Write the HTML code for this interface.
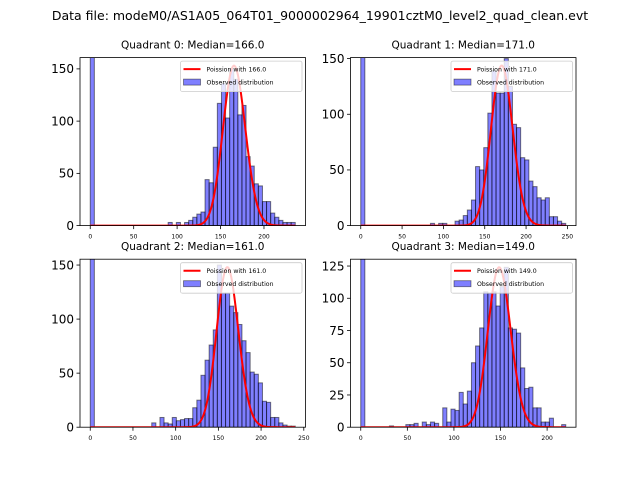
<!DOCTYPE html>
<html><head><meta charset="utf-8"><style>
html,body{margin:0;padding:0;background:#fff}
svg{display:block;font-family:"DejaVu Sans","Liberation Sans",sans-serif}
</style></head><body>
<svg id="fig" width="640" height="480" viewBox="0 0 640 480">
<rect x="0" y="0" width="640" height="480" fill="#fff"/>
<text x="320" y="20" text-anchor="middle" font-size="12.5">Data file: modeM0/AS1A05_064T01_9000002964_19901cztM0_level2_quad_clean.evt</text>
</svg>
<script>
// ---- data ----
const quadrantNames = ["Quadrant 0", "Quadrant 1", "Quadrant 2", "Quadrant 3"];
const medians = [166.0, 171.0, 161.0, 149.0];
const binMaxes = [236, 248, 240, 220];
const curvePeaks = [153, 143.7, 148, 124];
const yLimits = [160.8, 150.9, 155.4, 130.3];
const counts0 = [1000,0,0,0,0,0,0,0,0,0,0,0,0,0,0,0,0,0,0,3,0,3,0,3,5,8,11,13,44,41,75,117,136,103,150,140,106,115,66,57,40,38,23,23,12,8,5,3,3,3];
const counts1 = [1000,0,0,0,0,0,0,0,0,0,0,0,0,0,0,0,0,2,0,2,2,0,0,4,5,9,14,23,53,50,70,101,139,119,119,150,125,91,88,61,59,40,35,25,23,25,8,8,4,2];
const counts2 = [1000,0,0,0,0,0,0,0,0,0,0,0,0,0,0,4,0,9,4,3,9,6,7,8,8,18,25,48,62,76,90,150,124,124,112,106,95,80,69,51,49,41,24,23,9,9,4,2,1,1];
const counts3 = [1000,0,0,0,0,0,0,1,0,0,0,2,2,3,0,4,2,4,3,0,15,4,14,13,27,18,28,50,63,77,105,104,105,94,109,124,77,76,73,46,30,31,15,15,4,4,7,0,0,2];
const yTicks0 = [0,50,100,150];
const yTicks1 = [0,50,100,150];
const yTicks2 = [0,50,100,150];
const yTicks3 = [0,25,50,75,100,125];
const xTicks0 = [0,50,100,150,200];
const xTicks1 = [0,50,100,150,200,250];
const xTicks2 = [0,50,100,150,200,250];
const xTicks3 = [0,50,100,150,200];

const allCounts = [counts0, counts1, counts2, counts3];
const allYTicks = [yTicks0, yTicks1, yTicks2, yTicks3];
const allXTicks = [xTicks0, xTicks1, xTicks2, xTicks3];

// ---- layout ----
const boxes = [
  {x:80, y:57.6, w:225.5, h:168},
  {x:350.5, y:57.6, w:225.5, h:168},
  {x:80, y:259.2, w:225.5, h:168},
  {x:350.5, y:259.2, w:225.5, h:168}
];
const NS = "http://www.w3.org/2000/svg";
const fig = document.getElementById("fig");
function mk(tag, attrs, parent){
  const e = document.createElementNS(NS, tag);
  for (const k in attrs) e.setAttribute(k, attrs[k]);
  (parent||fig).appendChild(e);
  return e;
}
function lgamma(x){
  if (x < 7){ let p=1; while(x<7){p*=x;x+=1;} return lgamma(x)-Math.log(p); }
  return (x-0.5)*Math.log(x)-x+0.5*Math.log(2*Math.PI)+1/(12*x)-1/(360*x*x*x);
}

for (let q=0; q<4; q++){
  const b = boxes[q], counts = allCounts[q], bmax = binMaxes[q];
  const nb = counts.length, bw = bmax/nb;
  const pad = bmax*0.05;
  const x0 = -pad, x1 = bmax+pad, yTop = yLimits[q];
  const sx = v => b.x + (v-x0)/(x1-x0)*b.w;
  const sy = v => b.y + b.h - v/yTop*b.h;

  const g = mk("g", {});
  
  

  const cp = mk("clipPath", {id:"clip"+q}, g);
  mk("rect", {x:b.x, y:b.y, width:b.w, height:b.h}, cp);

  const plot = mk("g", {"clip-path":"url(#clip"+q+")"}, g);
  for (let i=0;i<nb;i++){
    if (counts[i] <= 0) continue;
    const r = mk("rect", {x:sx(i*bw), y:sy(counts[i]), width:sx((i+1)*bw)-sx(i*bw), height:sy(0)-sy(counts[i]),
      fill:"rgba(0,0,255,0.5)", stroke:"rgba(0,0,0,0.5)", "stroke-width":1}, plot);
    
    
  }
  const lam = medians[q];
  const logs = [];
  for (let k=0;k<=bmax;k++) logs.push(k*Math.log(lam)-lam-lgamma(k+1));
  const lmax = Math.max(...logs);
  let d = "";
  for (let k=0;k<=bmax;k++){
    const v = Math.exp(logs[k]-lmax)*curvePeaks[q];
    d += (k?"L":"M")+sx(k).toFixed(2)+","+sy(v).toFixed(2);
  }
  const curve = mk("path", {d:d, fill:"none", stroke:"#ff0000", "stroke-width":2}, plot);
  
  

  const fr = mk("rect", {x:b.x, y:b.y, width:b.w, height:b.h, fill:"none", stroke:"#000", "stroke-width":0.8}, g);
  
  

  for (const t of allYTicks[q]){
    const yy = sy(t);
    mk("line", {x1:b.x-3.5, x2:b.x, y1:yy, y2:yy, stroke:"#000", "stroke-width":0.8}, g);
    const tl = mk("text", {x:b.x-6, y:yy+4.3, "text-anchor":"end", "font-size":12}, g);
    tl.textContent = t;
    
    
  }
  for (const t of allXTicks[q]){
    const xx = sx(t);
    mk("line", {x1:xx, x2:xx, y1:b.y+b.h, y2:b.y+b.h+3.5, stroke:"#000", "stroke-width":0.8}, g);
    const tl = mk("text", {x:xx, y:b.y+b.h+13, "text-anchor":"middle", "font-size":6}, g);
    tl.textContent = t;
    
    
  }
  const tt = mk("text", {x:b.x+b.w/2, y:b.y-9, "text-anchor":"middle", "font-size":10.5}, g);
  tt.textContent = quadrantNames[q]+": Median="+medians[q].toFixed(1);
  
  

  const lg = mk("g", {}, g);
  
  
  const lx = b.x+b.w-125, ly = b.y+3.5;
  mk("rect", {x:lx, y:ly, width:121.5, height:30.5, rx:2, fill:"rgba(255,255,255,0.8)", stroke:"#ccc", "stroke-width":0.8}, lg);
  mk("line", {x1:lx+3, x2:lx+20, y1:ly+8, y2:ly+8, stroke:"#ff0000", "stroke-width":2}, lg);
  const t1 = mk("text", {x:lx+26, y:ly+10.3, "font-size":6.2}, lg);
  t1.textContent = "Poission with "+medians[q].toFixed(1);
  
  
  mk("rect", {x:lx+3, y:ly+18, width:17, height:6, fill:"rgba(0,0,255,0.5)", stroke:"rgba(0,0,0,0.5)", "stroke-width":0.8}, lg);
  const t2 = mk("text", {x:lx+26, y:ly+23.5, "font-size":6.2}, lg);
  t2.textContent = "Observed distribution";
  
  
}
</script>
</body></html>
